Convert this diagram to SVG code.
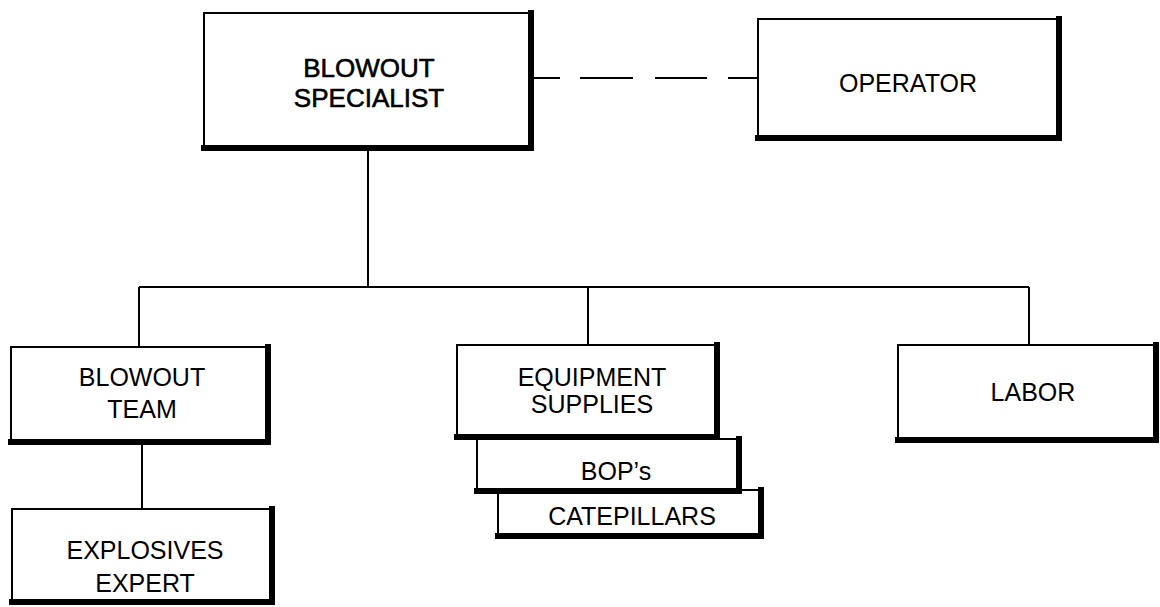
<svg xmlns="http://www.w3.org/2000/svg" width="1160" height="607" viewBox="0 0 1160 607">
<style>
.box{fill:#fff;stroke:#000;stroke-width:2}
.sh{fill:none;stroke:#000;stroke-width:6;stroke-linejoin:miter;stroke-linecap:square}
.ln{fill:none;stroke:#000;stroke-width:2}
.t{font-family:"Liberation Sans",Arial,sans-serif;font-size:25px;fill:#000;text-anchor:middle}
.tb{font-family:"Liberation Sans",Arial,sans-serif;font-size:26px;fill:#000;stroke:#000;stroke-width:0.6;text-anchor:middle}
</style>
<rect width="1160" height="607" fill="#fff"/>
<g id="connectors">
<path class="ln" d="M533,78 H757" stroke-dasharray="27 20 53 22 52 21 29" stroke-width="2.5"/>
<path class="ln" d="M368,151 V287"/>
<path class="ln" d="M139,287 H1029" stroke-width="2.5"/>
<path class="ln" d="M139,287 V347"/>
<path class="ln" d="M588,287 V345"/>
<path class="ln" d="M1029,287 V345"/>
<path class="ln" d="M142,444 V509"/>
</g>
<g id="blowout-specialist">
<rect class="box" x="204" y="13" width="326" height="134"/>
<path class="sh" d="M204,148 H531 V13"/>
<text class="tb" x="369" y="77">BLOWOUT</text>
<text class="tb" x="369" y="107">SPECIALIST</text>
</g>
<g id="operator">
<rect class="box" x="758" y="19" width="300" height="118"/>
<path class="sh" d="M758,138 H1059 V19"/>
<text class="t" x="908" y="92">OPERATOR</text>
</g>
<g id="blowout-team">
<rect class="box" x="11" y="347" width="256" height="94"/>
<path class="sh" d="M11,442 H268 V347"/>
<text class="t" x="142" y="386">BLOWOUT</text>
<text class="t" x="142" y="418">TEAM</text>
</g>
<g id="explosives-expert">
<rect class="box" x="12" y="509" width="259" height="92"/>
<path class="sh" d="M12,602 H272 V509"/>
<text class="t" x="145" y="559">EXPLOSIVES</text>
<text class="t" x="145" y="592">EXPERT</text>
</g>
<g id="catepillars">
<rect class="box" x="498" y="490" width="262" height="45"/>
<path class="sh" d="M498,536 H761 V490"/>
<text class="t" x="632" y="525">CATEPILLARS</text>
</g>
<g id="bops">
<rect class="box" x="477" y="439" width="261" height="51"/>
<path class="sh" d="M477,491 H739 V439"/>
<text class="t" x="616" y="480">BOP’s</text>
</g>
<g id="equipment-supplies">
<rect class="box" x="457" y="345" width="259" height="91"/>
<path class="sh" d="M457,437 H717 V345"/>
<text class="t" x="592" y="386">EQUIPMENT</text>
<text class="t" x="592" y="413">SUPPLIES</text>
</g>
<g id="labor">
<rect class="box" x="898" y="345" width="257" height="94"/>
<path class="sh" d="M898,440 H1156 V345"/>
<text class="t" x="1033" y="401">LABOR</text>
</g>
</svg>
